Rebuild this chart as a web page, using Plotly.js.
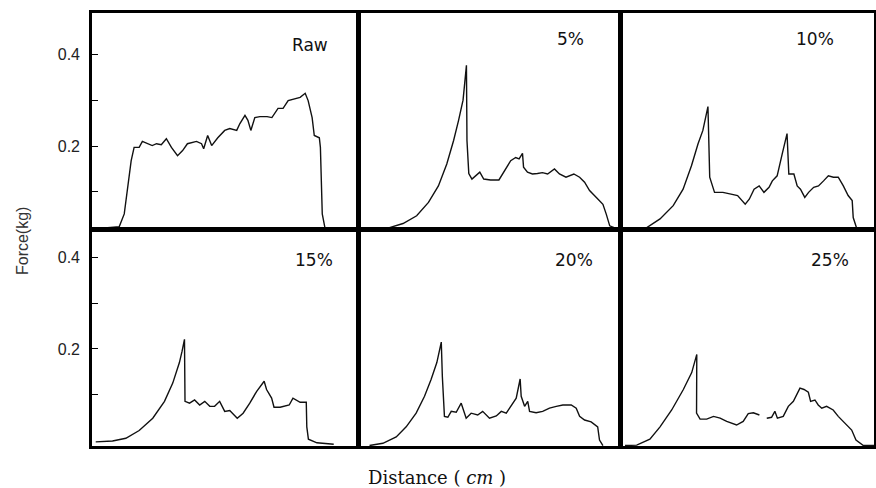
<!DOCTYPE html>
<html>
<head>
<meta charset="utf-8">
<script src="https://cdn.plot.ly/plotly-3.0.1.min.js"></script>
<style>html,body{margin:0;padding:0;background:#fff;}#chart{width:876px;height:488px;}</style>
</head>
<body>
<div id="chart"></div>
<script>
// ---- Data (distance in relative units 0-100, force in kg) ----
const panelLabels = ["Raw", "5%", "10%", "15%", "20%", "25%"];

const rawX = [1.5, 10.2, 12.1, 14.7, 15.8, 17.7, 18.9, 20.8, 22.6, 24.2, 26, 27.9, 29.8, 32.1, 34, 35.8, 39.2, 41.1, 41.9, 43.4, 44.9, 47.2, 49.8, 51.7, 54.3, 55.5, 57.4, 58.5, 59.6, 61.1, 63, 65.7, 67.5, 69.8, 71.7, 73.6, 76.2, 78.1, 80, 81.1, 82.6, 83.4, 85.3, 85.7, 86.4, 87.5, 92.1];
const rawY = [0.02, 0.024, 0.052, 0.168, 0.197, 0.197, 0.21, 0.205, 0.201, 0.205, 0.203, 0.216, 0.197, 0.179, 0.19, 0.205, 0.21, 0.205, 0.194, 0.223, 0.201, 0.218, 0.234, 0.238, 0.234, 0.249, 0.267, 0.256, 0.234, 0.262, 0.264, 0.264, 0.262, 0.282, 0.282, 0.299, 0.304, 0.306, 0.315, 0.299, 0.262, 0.223, 0.218, 0.197, 0.052, 0.019, 0.02];

const p5X = [4.2, 10.6, 17, 22.2, 26.7, 30.5, 33.7, 36.3, 38.2, 39.9, 40.4, 41.2, 41.4, 42.1, 43.3, 44.8, 46.3, 47.8, 50.4, 53.6, 55.5, 56.8, 58.1, 60, 61.3, 62.6, 63, 64.5, 66.4, 68.3, 70.2, 72.2, 74.8, 76.7, 79.2, 82.2, 84.4, 86.3, 88.2, 90.8, 93.3, 94.6, 95.9, 98.5];
const p5Y = [0.02, 0.02, 0.031, 0.048, 0.077, 0.113, 0.161, 0.212, 0.256, 0.3, 0.329, 0.376, 0.212, 0.14, 0.128, 0.136, 0.143, 0.128, 0.126, 0.126, 0.143, 0.154, 0.168, 0.175, 0.172, 0.184, 0.154, 0.143, 0.139, 0.14, 0.142, 0.139, 0.15, 0.139, 0.132, 0.139, 0.132, 0.121, 0.103, 0.088, 0.073, 0.051, 0.026, 0.02];

const p10X = [4.6, 10.4, 15.6, 20.8, 24.7, 28, 30.6, 32.5, 34.5, 35.2, 37.1, 40.4, 43.6, 46.2, 49.2, 50.8, 52.7, 54.7, 56.6, 58.6, 59.9, 61.8, 63.8, 65.7, 66.4, 68.4, 69.7, 71, 72.7, 74.2, 76.2, 78.1, 80.1, 82, 84, 85.9, 87.9, 89.8, 91.4, 91.8, 93.1];
const p10Y = [0.02, 0.022, 0.041, 0.07, 0.106, 0.157, 0.205, 0.234, 0.286, 0.132, 0.099, 0.099, 0.095, 0.092, 0.073, 0.084, 0.106, 0.113, 0.099, 0.11, 0.124, 0.135, 0.183, 0.227, 0.139, 0.139, 0.113, 0.106, 0.088, 0.099, 0.11, 0.113, 0.124, 0.135, 0.132, 0.132, 0.113, 0.092, 0.081, 0.044, 0.022];

const p15X = [1.4, 7.7, 12.7, 17.7, 22.8, 27.2, 30.3, 32.8, 33.8, 34.7, 34.9, 36.6, 38.5, 40.4, 42.3, 44.2, 46, 47.9, 49.8, 51.7, 54.5, 56.7, 59.2, 61.8, 64.6, 65.5, 67.4, 68.3, 70.6, 72.5, 74, 75.4, 76.9, 78.1, 80.4, 80.6, 81.2, 84.4, 90.7];
const p15Y = [-0.004, -0.002, 0.004, 0.021, 0.048, 0.085, 0.125, 0.17, 0.195, 0.221, 0.085, 0.081, 0.088, 0.077, 0.085, 0.074, 0.074, 0.085, 0.063, 0.065, 0.048, 0.059, 0.081, 0.107, 0.129, 0.111, 0.092, 0.072, 0.072, 0.074, 0.077, 0.092, 0.088, 0.083, 0.083, 0.029, 0.002, -0.006, -0.009];

const p20X = [4.2, 9.3, 14.4, 18.2, 22, 25.2, 27.7, 29.9, 31.6, 32, 32.8, 34.1, 35.4, 37.3, 39.2, 41.1, 43, 45.5, 47.4, 50, 52.6, 54.5, 56.4, 58.9, 60.2, 61.7, 62.1, 63.4, 64.6, 65.3, 67.8, 70.3, 72.9, 75.5, 78, 81.2, 83.1, 84.4, 86.3, 88.8, 91.3, 92, 93.3];
const p20Y = [-0.012, -0.007, 0.007, 0.029, 0.059, 0.096, 0.133, 0.17, 0.215, 0.14, 0.052, 0.05, 0.063, 0.061, 0.081, 0.048, 0.059, 0.055, 0.063, 0.048, 0.053, 0.063, 0.059, 0.081, 0.092, 0.134, 0.096, 0.074, 0.085, 0.063, 0.06, 0.063, 0.07, 0.074, 0.077, 0.077, 0.07, 0.052, 0.044, 0.04, 0.029, 0, -0.012];

const p25X = [1.8, 6.4, 11.6, 15.6, 20.2, 24.8, 28.1, 30.1, 30, 31.4, 34, 36.7, 39.3, 41.9, 45.8, 48.4, 50.4, 52.4, 54.8, 56, 57.7, 59.6, 60.9, 61.9, 64.2, 66.2, 68.2, 69.5, 70.8, 72.4, 74.1, 75, 76.7, 78, 79.4, 81.3, 83.9, 85.9, 88.6, 91.2, 92.9, 95.8, 100];
const p25Y = [-0.012, -0.011, 0.002, 0.029, 0.066, 0.111, 0.148, 0.188, 0.059, 0.046, 0.046, 0.052, 0.048, 0.041, 0.033, 0.041, 0.058, 0.06, 0.055, null, 0.048, 0.05, 0.063, 0.048, 0.052, 0.074, 0.085, 0.1, 0.114, 0.111, 0.105, 0.085, 0.088, 0.077, 0.07, 0.074, 0.066, 0.052, 0.037, 0.022, 0, -0.012, -0.012];

const yTickVals = [0.1, 0.2, 0.3, 0.4];
const yTickText = ["", "0.2", "", "0.4"];
const yTitle = "Force(kg)";
const xTitle = "Distance ( <i>cm</i> )";

// ---- Build ----
const series = [[rawX, rawY], [p5X, p5Y], [p10X, p10Y], [p15X, p15Y], [p20X, p20Y], [p25X, p25Y]];
const colDomains = [[0, 0.3408], [0.3408, 0.6758], [0.6758, 1]];
const rowDomains = [[0.5, 1], [0, 0.5]];
const rowRanges = [[0.018, 0.49], [-0.013, 0.462]];

const traces = series.map((s, i) => ({
  type: 'scatter', mode: 'lines',
  x: s[0], y: s[1],
  xaxis: 'x' + (i + 1), yaxis: 'y' + (i + 1),
  line: {color: '#111', width: 1.4},
  connectgaps: false, hoverinfo: 'skip', showlegend: false
}));

const layout = {
  width: 876, height: 488,
  margin: {l: 92, r: 2, t: 13, b: 42},
  paper_bgcolor: '#fff', plot_bgcolor: '#fff',
  showlegend: false,
  annotations: []
};

const labelPos = [[0.2788, 0.926], [0.6125, 0.94], [0.9246, 0.9388], [0.2839, 0.4296], [0.6164, 0.4307], [0.9431, 0.4296]];

for (let i = 0; i < 6; i++) {
  const row = Math.floor(i / 3), col = i % 3;
  const xa = {
    domain: colDomains[col], range: [0, 100], anchor: 'y' + (i + 1),
    showticklabels: false, ticks: '', showgrid: false, zeroline: false,
    showline: true, mirror: true, linecolor: '#000', linewidth: 2.8
  };
  const ya = {
    domain: rowDomains[row], range: rowRanges[row], anchor: 'x' + (i + 1),
    showgrid: false, zeroline: false,
    showline: true, mirror: true, linecolor: '#000', linewidth: 2.8
  };
  if (col === 0) {
    Object.assign(ya, {
      tickmode: 'array', tickvals: yTickVals, ticktext: yTickText,
      ticks: 'inside', ticklen: 6, tickwidth: 1, tickcolor: '#000',
      ticklabelstandoff: 6,
      tickfont: {family: 'Liberation Sans, Arial, sans-serif', size: 16, color: '#222'}
    });
  } else {
    Object.assign(ya, {showticklabels: false, ticks: ''});
  }
  layout['xaxis' + (i + 1)] = xa;
  layout['yaxis' + (i + 1)] = ya;
  layout.annotations.push({
    text: panelLabels[i], xref: 'paper', yref: 'paper',
    x: labelPos[i][0], y: labelPos[i][1], xanchor: 'center', yanchor: 'middle',
    showarrow: false,
    font: {family: 'DejaVu Sans, sans-serif', size: 17, color: '#111'}
  });
}

layout.annotations.push({
  text: yTitle, xref: 'paper', yref: 'paper', x: -0.0895, y: 0.4734,
  xanchor: 'center', yanchor: 'middle', textangle: -90, showarrow: false,
  font: {family: 'Liberation Sans, Arial, sans-serif', size: 16, color: '#333'}
});
layout.annotations.push({
  text: xTitle, xref: 'paper', yref: 'paper', x: 0.441, y: -0.0716,
  xanchor: 'center', yanchor: 'middle', showarrow: false,
  font: {family: 'DejaVu Serif, Liberation Serif, serif', size: 18, color: '#111'}
});

Plotly.newPlot('chart', traces, layout, {displayModeBar: false, staticPlot: true});
</script>
</body>
</html>
